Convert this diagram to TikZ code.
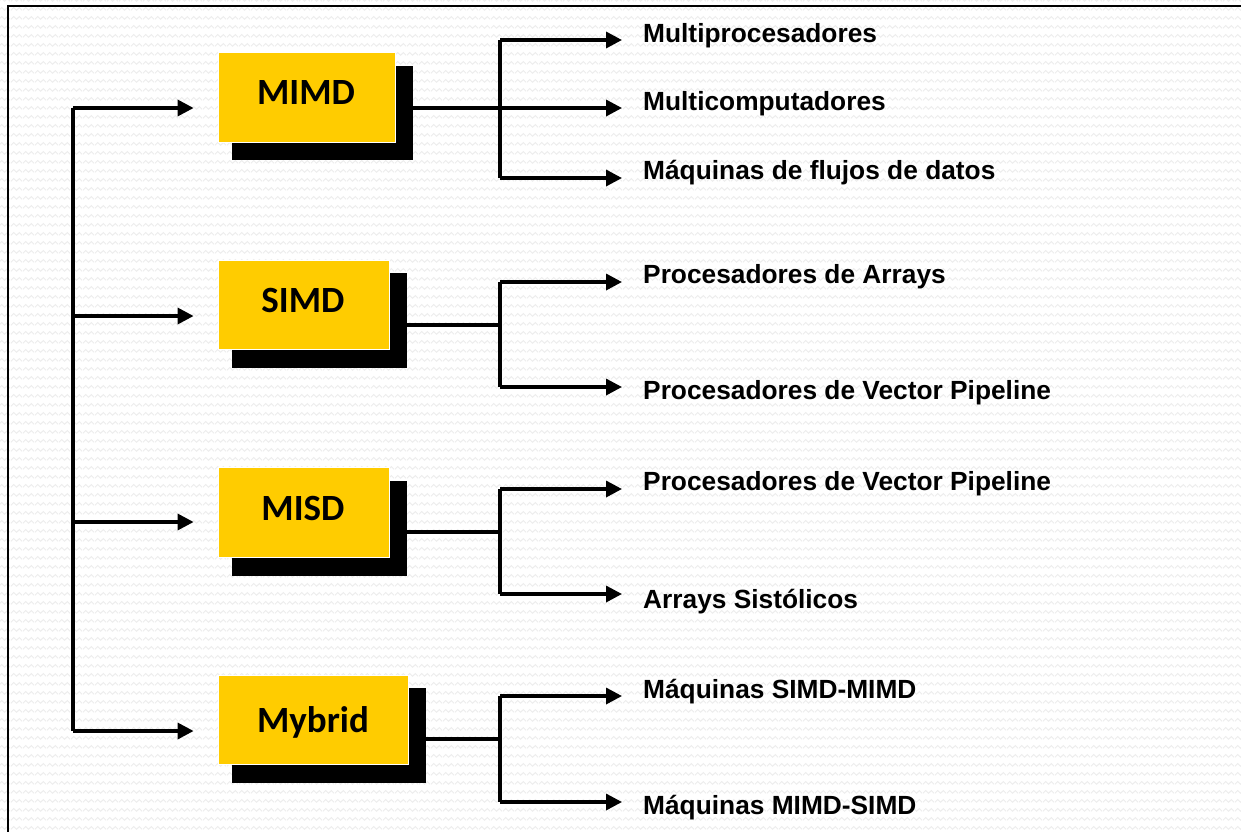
\documentclass[tikz,border=0pt]{standalone}
\usepackage{fontspec}
\setmainfont{Liberation Sans}
\newfontfamily\boxfont{Carlito}
\usetikzlibrary{arrows.meta,patterns}
\definecolor{boxyellow}{HTML}{FFCC00}
\definecolor{wavegray}{HTML}{EDEDED}

% faint wavy background texture
\pgfdeclarepatternformonly{softwave}{\pgfpointorigin}{\pgfpoint{12pt}{9pt}}{\pgfpoint{12pt}{9pt}}{%
  \pgfsetlinewidth{1pt}%
  \pgfpathmoveto{\pgfpoint{0pt}{3pt}}%
  \pgfpathlineto{\pgfpoint{3pt}{6pt}}%
  \pgfpathlineto{\pgfpoint{6pt}{3pt}}%
  \pgfpathlineto{\pgfpoint{9pt}{6pt}}%
  \pgfpathlineto{\pgfpoint{12pt}{3pt}}%
  \pgfusepath{stroke}%
}

\tikzset{
  box/.style={fill=boxyellow, draw=white, line width=0.8pt, inner sep=0pt},
  shadowbox/.style={fill=black, inner sep=0pt},
  boxlabel/.style={font=\boxfont\bfseries\fontsize{37}{42}\selectfont, inner sep=0pt},
  leaf/.style={font=\bfseries\fontsize{26.3}{30}\selectfont, anchor=base west, inner sep=0pt},
  wire/.style={line width=3.4pt},
  arr/.style={line width=3.4pt, -{Triangle[length=16pt,width=16pt]}},
}

\begin{document}
\begin{tikzpicture}[x=1pt,y=-1pt]
\useasboundingbox (0,0) rectangle (1241,831);
\fill[white] (-10,-10) rectangle (1251,841);
\fill[pattern=softwave, pattern color=wavegray] (-10,-10) rectangle (1251,841);

% frame (top and left edges)
\draw[line width=2pt] (8,841) -- (8,6) -- (1251,6);

% category boxes with drop shadows
\node[shadowbox, minimum width=181pt, minimum height=94pt] (mimds) at (322.5,113) {};
\node[box, minimum width=177pt, minimum height=90pt] (mimd) at (306.5,97) {};
\node[boxlabel] (mimdl) at (306,92) {MIMD};

\node[shadowbox, minimum width=175pt, minimum height=95pt] (simds) at (319.5,320.5) {};
\node[box, minimum width=171pt, minimum height=89pt] (simd) at (303.5,304.5) {};
\node[boxlabel] (simdl) at (303,300) {SIMD};

\node[shadowbox, minimum width=175pt, minimum height=95pt] (misds) at (319.5,528.5) {};
\node[box, minimum width=171pt, minimum height=90pt] (misd) at (303.5,512) {};
\node[boxlabel] (misdl) at (303,508) {MISD};

\node[shadowbox, minimum width=194pt, minimum height=95pt] (hybs) at (329,735.5) {};
\node[box, minimum width=190pt, minimum height=89pt] (hyb) at (313,719.5) {};
\node[boxlabel] (hybl) at (313,722) {Mybrid};

% trunk on the left
\coordinate (t1) at (73,108);
\coordinate (t2) at (73,316);
\coordinate (t3) at (73,522);
\coordinate (t4) at (73,731);
\draw[wire] (t1) -- (t4);
\draw[arr] (t1) -- ([xshift=-24pt]t1 -| mimd.west);
\draw[arr] (t2) -- ([xshift=-24pt]t2 -| simd.west);
\draw[arr] (t3) -- ([xshift=-24pt]t3 -| misd.west);
\draw[arr] (t4) -- ([xshift=-24pt]t4 -| hyb.west);

% leaf labels
\node[leaf] (l1) at (643,42) {Multiprocesadores};
\node[leaf] (l2) at (643,110) {Multicomputadores};
\node[leaf] (l3) at (643,179) {Máquinas de flujos de datos};
\node[leaf] (l4) at (643,283) {Procesadores de Arrays};
\node[leaf] (l5) at (643,399) {Procesadores de Vector Pipeline};
\node[leaf] (l6) at (643,490) {Procesadores de Vector Pipeline};
\node[leaf] (l7) at (643,608) {Arrays Sistólicos};
\node[leaf] (l8) at (643,698) {Máquinas SIMD-MIMD};
\node[leaf] (l9) at (643,814) {Máquinas MIMD-SIMD};

% MIMD branches
\coordinate (m0) at (413,108);
\coordinate (m1) at (500,40);
\coordinate (m2) at (500,108);
\coordinate (m3) at (500,178);
\draw[wire] (m1) -- (m3);
\draw[arr] (m0) -- ([xshift=-21pt]m2 -| l2.west);
\draw[arr] (m1) -- ([xshift=-21pt]m1 -| l1.west);
\draw[arr] (m3) -- ([xshift=-21pt]m3 -| l3.west);

% SIMD branches
\coordinate (s0) at (simds.east |- 0,325);
\coordinate (s1) at (500,282);
\coordinate (sj) at (500,325);
\coordinate (s2) at (500,387);
\draw[wire] (s0) -- (sj);
\draw[wire] (s1) -- (s2);
\draw[arr] (s1) -- ([xshift=-21pt]s1 -| l4.west);
\draw[arr] (s2) -- ([xshift=-21pt]s2 -| l5.west);

% MISD branches
\coordinate (d0) at (misds.east |- 0,532);
\coordinate (d1) at (500,489);
\coordinate (dj) at (500,532);
\coordinate (d2) at (500,594);
\draw[wire] (d0) -- (dj);
\draw[wire] (d1) -- (d2);
\draw[arr] (d1) -- ([xshift=-21pt]d1 -| l6.west);
\draw[arr] (d2) -- ([xshift=-21pt]d2 -| l7.west);

% Mybrid branches
\coordinate (h0) at (hybs.east |- 0,739);
\coordinate (h1) at (500,696);
\coordinate (hj) at (500,739);
\coordinate (h2) at (500,802);
\draw[wire] (h0) -- (hj);
\draw[wire] (h1) -- (h2);
\draw[arr] (h1) -- ([xshift=-21pt]h1 -| l8.west);
\draw[arr] (h2) -- ([xshift=-21pt]h2 -| l9.west);
\end{tikzpicture}
\end{document}
